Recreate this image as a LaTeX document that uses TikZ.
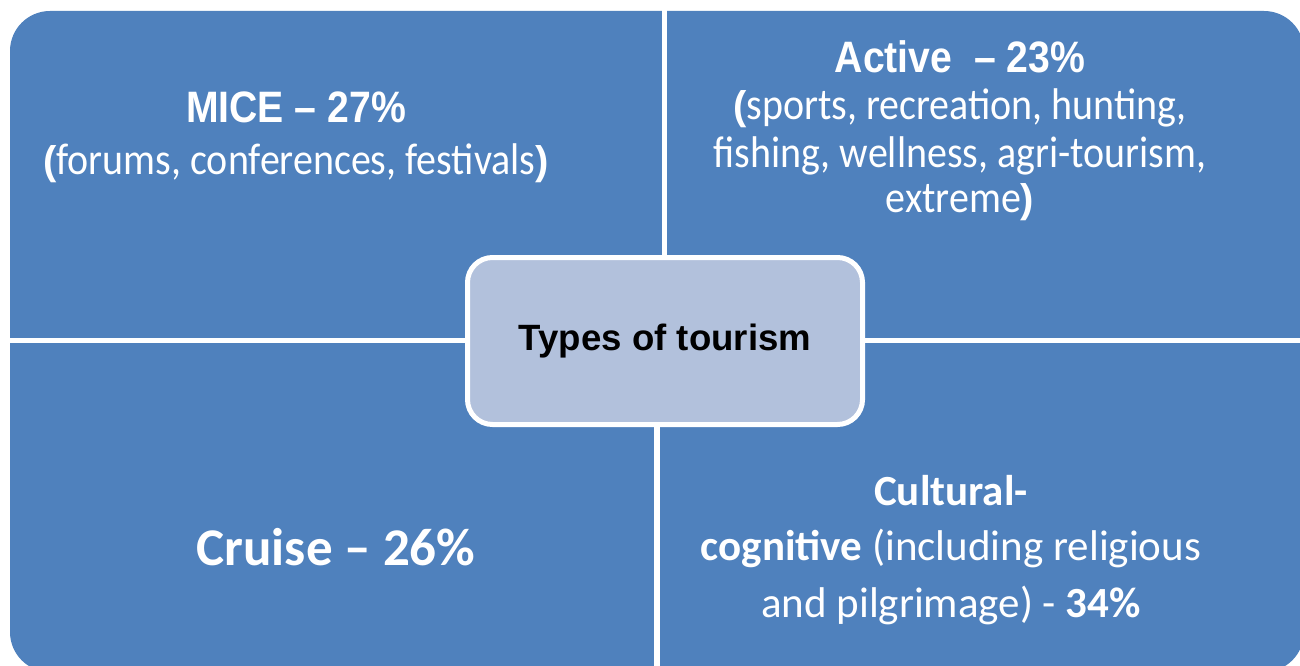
\documentclass[tikz,border=0pt]{standalone}
\usepackage{fontspec}
\setmainfont{Carlito}
\newfontfamily\titlef[FakeStretch=0.89]{Liberation Sans}
\newfontfamily\bodyf[FakeStretch=0.9]{Carlito}
\newfontfamily\arialf{Liberation Sans}
\newcommand\pb[1]{{\arialf\bfseries\fontsize{40bp}{47bp}\selectfont #1}}
\definecolor{quad}{RGB}{79,129,189}
\definecolor{hub}{RGB}{178,193,220}
\begin{document}
\begin{tikzpicture}[x=1bp,y=-1bp,
  txt/.style={text=white, inner sep=0pt, anchor=base},
  body/.style={txt, font=\bodyf\fontsize{44.4bp}{50bp}\selectfont},
  ttl/.style={txt, font=\titlef\bfseries\fontsize{44bp}{50bp}\selectfont},
  cult/.style={txt, font=\fontsize{43bp}{55bp}\selectfont},
  cruisef/.style={txt, font=\bfseries\fontsize{53bp}{60bp}\selectfont},
  hubbox/.style={draw=white, line width=5bp, fill=hub, rounded corners=25bp,
    minimum width=395bp, minimum height=167bp, inner sep=0pt,
    font=\arialf\bfseries\fontsize{36.6bp}{40bp}\selectfont}]
\useasboundingbox (0,0) rectangle (1300,665);
\fill[white] (0,0) rectangle (1300,665);
\begin{scope}
  \clip (0,0) rectangle (1300,665);
  \fill[quad, rounded corners=40bp] (10,11) rectangle (1304,672);
  \fill[white] (662,0) rectangle (667,340);
  \fill[white] (654,340) rectangle (660,672);
  \fill[white] (10,338) rectangle (1304,343);
\end{scope}
\node[hubbox] (hub) at (665,341) {Types of tourism};
% MICE
\node[ttl] (miceT) at (296,123) {MICE – 27\%};
\node[body] (miceB) at (296,174) {\pb{(}forums, conferences, festivals\pb{)}};
% Active
\node[ttl] (actT) at (960,73) {Active\ \ – 23\%};
\node[body] (act1) at (960,120) {\pb{(}sports, recreation, hunting,};
\node[body] (act2) at (960,167) {fishing, wellness, agri-tourism,};
\node[body] (act3) at (960,212) {extreme\pb{)}};
% Cruise
\node[cruisef] (cruise) at (336,565) {Cruise – 26\%};
% Cultural
\node[cult] (cul1) at (951,505) {\textbf{Cultural-}};
\node[cult] (cul2) at (951,560) {\textbf{cognitive} (including religious};
\node[cult] (cul3) at (951,617) {and pilgrimage) - \textbf{34\%}};
\end{tikzpicture}
\end{document}
